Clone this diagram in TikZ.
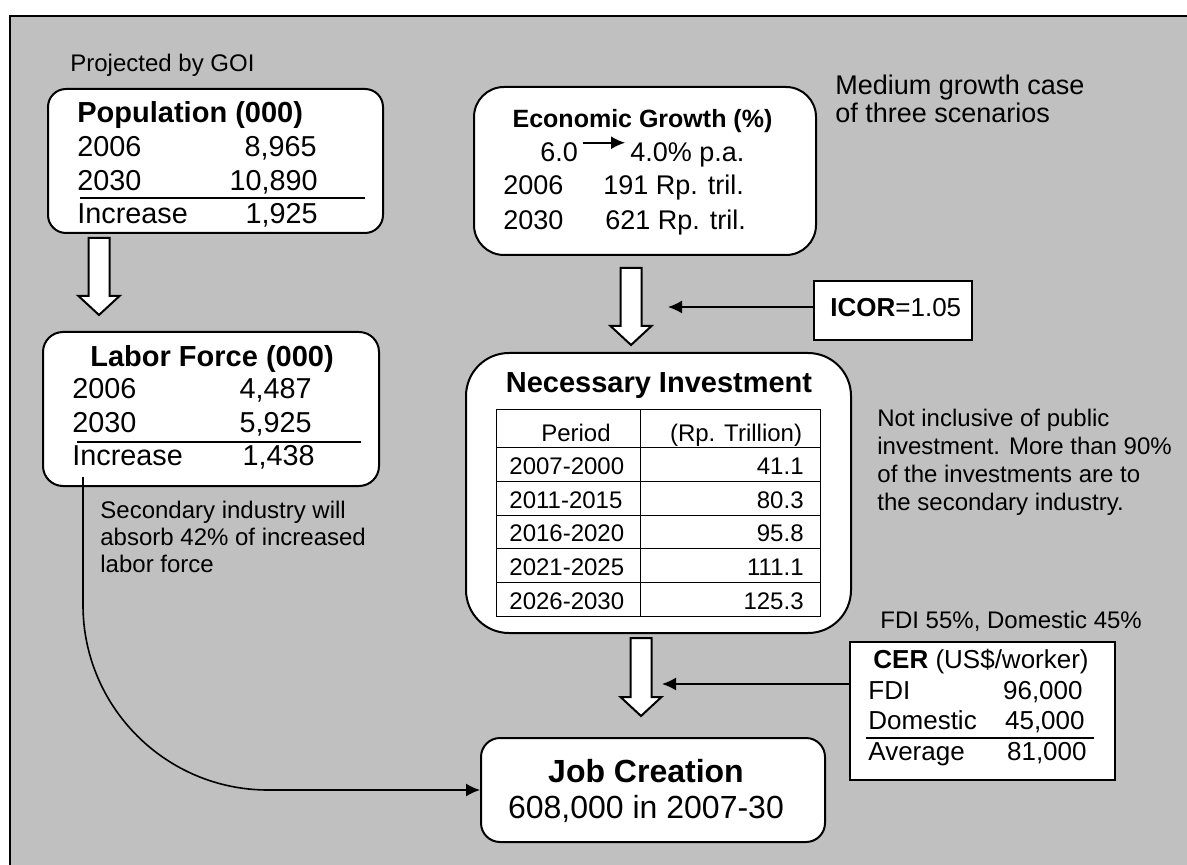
\documentclass[tikz,border=0pt]{standalone}
\usepackage{fontspec}
\setmainfont{Liberation Sans}
\usetikzlibrary{arrows.meta}
\definecolor{BgGray}{HTML}{C0C0C0}

% hollow block arrow: centre x, top y, tip y
\newcommand{\HollowArrow}[3]{%
  \draw[line width=1pt, fill=white] (#1-10.5,#2) -- (#1+10.5,#2) -- (#1+10.5,#3-19)
    -- (#1+20.5,#3-19) -- (#1,#3) -- (#1-20.5,#3-19) -- (#1-10.5,#3-19) -- cycle;
}

\begin{document}
\begin{tikzpicture}[
    x=0.5pt, y=-0.5pt,
    >={Latex[length=7pt,width=6.5pt]},
    rbox/.style  = {draw, fill=white, line width=1pt, inner sep=0},
    sqbox/.style = {draw, fill=white, line width=1pt, inner sep=0},
    txt/.style   = {inner sep=0, font=\fontsize{14.4}{17}\selectfont},
    head/.style  = {inner sep=0, font=\bfseries\fontsize{14.5}{17}\selectfont},
    cell/.style  = {inner sep=0, font=\fontsize{12}{14}\selectfont},
    note/.style  = {inner sep=0, align=left, font=\fontsize{12}{13.5}\selectfont},
    conn/.style  = {line width=0.8pt},
  ]
% background
\useasboundingbox (0,0) rectangle (1187,865);
\fill[BgGray] (10,16) rectangle (1187,865);
\draw[line width=1pt] (10,865) -- (10,16) -- (1187,16);

% boxes
\node[rbox, rounded corners=9pt, minimum width=167.5pt, minimum height=72pt] (pop) at (215.5,161) {};
\node[rbox, rounded corners=10pt, minimum width=168pt, minimum height=77pt] (lab) at (211,409) {};
\node[rbox, rounded corners=15pt, minimum width=171pt, minimum height=84pt] (econ) at (645,171) {};
\node[sqbox, minimum width=79pt, minimum height=29.5pt] (icor) at (893,310.5) {};
\node[rbox, rounded corners=21.5pt, minimum width=192.5pt, minimum height=140pt] (inv) at (658.5,493) {};
\node[rbox, rounded corners=9.5pt, minimum width=172pt, minimum height=52pt] (job) at (653,790) {};
\node[sqbox, minimum width=132.5pt, minimum height=69pt] (cer) at (982.5,711) {};

% hollow arrows
\HollowArrow{99}{238}{315}
\HollowArrow{631}{268}{345}
\HollowArrow{641}{638}{716}

% population
\node[note, anchor=base west] (goi) at (70,72) {Projected by GOI};
\node[head, anchor=base west] (pop title) at (77,123) {Population (000)};
\node[txt, anchor=base west] (pop y1) at (77,157) {2006};
\node[txt, anchor=base east] (pop v1) at (317,157) {8,965};
\node[txt, anchor=base west] (pop y2) at (77,191) {2030};
\node[txt, anchor=base east] (pop v2) at (318,191) {10,890};
\draw[line width=1pt] (80,198) -- (365,198);
\node[txt, anchor=base west] (pop inc) at (77,224) {Increase};
\node[txt, anchor=base east] (pop v3) at (318,224) {1,925};

% labor force
\node[head, anchor=base west] (lab title) at (90,367) {Labor Force (000)};
\node[txt, anchor=base west] (lab y1) at (72,399) {2006};
\node[txt, anchor=base east] (lab v1) at (312,399) {4,487};
\node[txt, anchor=base west] (lab y2) at (72,433) {2030};
\node[txt, anchor=base east] (lab v2) at (312,433) {5,925};
\draw[line width=1pt] (77,442) -- (361,442);
\node[txt, anchor=base west] (lab inc) at (72,466) {Increase};
\node[txt, anchor=base east] (lab v3) at (315,466) {1,438};
\node[note, anchor=base west] (secnote) at (100,572) {Secondary industry will\\absorb 42\% of increased\\labor force};

% economic growth
\node[head, font=\bfseries\fontsize{12.5}{15}\selectfont, anchor=base] (econ title) at (642.5,128) {Economic Growth (\%)};
\node[txt, font=\fontsize{13.5}{16}\selectfont, anchor=base west] (g60) at (540,162) {6.0};
\node[txt, font=\fontsize{13.5}{16}\selectfont, anchor=base west] (g40) at (630,162) {4.0\% p.a.};
\draw[conn, ->, shorten <=2.5pt, shorten >=2.5pt] (g60.north east) -- (g40.north west);
\node[txt, font=\fontsize{13.5}{16}\selectfont, anchor=base west] (econ y1) at (503,195) {2006};
\node[txt, font=\fontsize{13.5}{16}\selectfont, anchor=base west] (econ v1) at (603,195) {191 Rp. tril.};
\node[txt, font=\fontsize{13.5}{16}\selectfont, anchor=base west] (econ y2) at (503,230) {2030};
\node[txt, font=\fontsize{13.5}{16}\selectfont, anchor=base west] (econ v2) at (605,230) {621 Rp. tril.};
\node[note, font=\fontsize{13.5}{14}\selectfont, anchor=base west] (medium) at (835,123) {Medium growth case\\of three scenarios};

% icor
\node[txt, font=\fontsize{13}{15}\selectfont, anchor=base west] (icor text) at (830,317) {\textbf{ICOR}=1.05};
\coordinate (icortip) at (668,307);
\draw[conn, ->] (icor.west |- icortip) -- (icortip);

% necessary investment
\node[head, anchor=base] (inv title) at (659,393) {Necessary Investment};
\draw[line width=0.5pt] (496,410) rectangle (820,616);
\draw[line width=0.5pt] (640,410) -- (640,616);
\foreach \i in {0,...,4}
    \draw[line width=0.5pt] (496,448+33.6*\i) -- (820,448+33.6*\i);
\node[cell, anchor=base] (per head) at (576,442) {Period};
\node[cell, anchor=base] (val head) at (736,442) {(Rp. Trillion)};
\foreach \per/\val [count=\i] in {2007-2000/41.1, 2011-2015/80.3, 2016-2020/95.8, 2021-2025/111.1, 2026-2030/125.3}{
    \node[cell, anchor=base west] (per\i) at (509,448+33.6*\i-7) {\per};
    \node[cell, anchor=base east] (val\i) at (804,448+33.6*\i-7) {\val};
}
\node[note, font=\fontsize{12}{14}\selectfont, anchor=base west] (invnote) at (877,510) {Not inclusive of public\\investment. More than 90\%\\of the investments are to\\the secondary industry.};

% cer
\node[note, anchor=base west] (share) at (880,628) {FDI 55\%, Domestic 45\%};
\node[txt, font=\fontsize{13}{15}\selectfont, anchor=base west] (cer title) at (873,668) {\textbf{CER} (US\$/worker)};
\node[txt, font=\fontsize{13}{15}\selectfont, anchor=base west] (cer l1) at (868,699) {FDI};
\node[txt, font=\fontsize{13}{15}\selectfont, anchor=base east] (cer v1) at (1083,699) {96,000};
\node[txt, font=\fontsize{13}{15}\selectfont, anchor=base west] (cer l2) at (868,729) {Domestic};
\node[txt, font=\fontsize{13}{15}\selectfont, anchor=base east] (cer v2) at (1085,729) {45,000};
\draw[line width=1pt] (866,738) -- (1094,738);
\node[txt, font=\fontsize{13}{15}\selectfont, anchor=base west] (cer l3) at (868,760) {Average};
\node[txt, font=\fontsize{13}{15}\selectfont, anchor=base east] (cer v3) at (1087,760) {81,000};
\coordinate (certip) at (662,684);
\draw[conn, ->] (cer.west |- certip) -- (certip);

% job creation
\node[head, font=\bfseries\fontsize{16}{19}\selectfont, anchor=base] (job title) at (646,782) {Job Creation};
\node[txt, font=\fontsize{16}{19}\selectfont, anchor=base] (job text) at (646,818) {608,000 in 2007-30};
\coordinate (labstart) at (83,477);
\draw[conn, ->, rounded corners=92.5pt] (labstart) |- (job.west);

\end{tikzpicture}
\end{document}
